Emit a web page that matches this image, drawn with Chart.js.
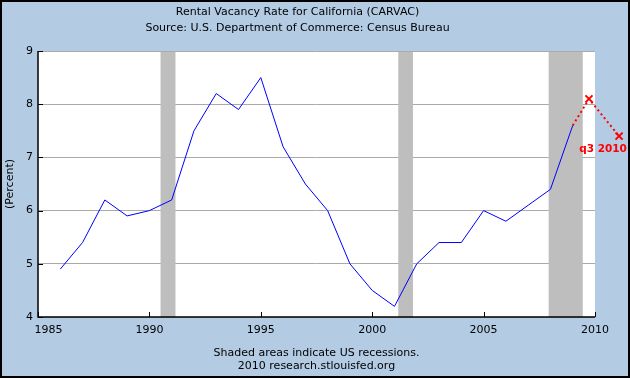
<!DOCTYPE html>
<html>
<head>
<meta charset="utf-8">
<script src="https://cdn.jsdelivr.net/npm/chart.js@4.4.0/dist/chart.umd.min.js"></script>
<style>
  html, body { margin: 0; padding: 0; background: #B3CCE4; }
  #wrap { width: 630px; height: 378px; }
</style>
</head>
<body>
<div id="wrap"><canvas id="myChart" width="630" height="378"></canvas></div>
<script>
// Årsdata, läst ur bilden
const years = [1986, 1987, 1988, 1989, 1990, 1991, 1992, 1993, 1994, 1995, 1996, 1997,
               1998, 1999, 2000, 2001, 2002, 2003, 2004, 2005, 2006, 2007, 2008, 2009];
const vacancy = [4.9, 5.4, 6.2, 5.9, 6.0, 6.2, 7.5, 8.2, 7.9, 8.5, 7.2, 6.5,
                 6.0, 5.0, 4.5, 4.2, 5.0, 5.4, 5.4, 6.0, 5.8, 6.1, 6.4, 7.6];

// Röda prickade linjen (kvartal)
const extraX = [2009, 2009.73, 2011.08];
const extraY = [7.6, 8.1, 7.4];
const extraLabel = 'q3 2010';

// Recessioner
const recessionStart = [1990.5, 2001.17, 2007.92];
const recessionEnd = [1991.17, 2001.83, 2009.45];

const xTicks = [1985, 1990, 1995, 2000, 2005, 2010];
const yTicks = [4, 5, 6, 7, 8, 9];

const titleLines = ['Rental Vacancy Rate for California (CARVAC)',
                    'Source: U.S. Department of Commerce: Census Bureau'];
const footerLines = ['Shaded areas indicate US recessions.',
                     '2010 research.stlouisfed.org'];
const yTitle = '(Percent)';

const baseFont = { family: 'DejaVu Sans', size: 11, weight: 'normal' };
const markerStyle = { pointStyle: 'crossRot', radius: 5, borderWidth: 2 };

const fredPlugin = {
    id: 'fred',
    beforeDraw(chart) {
        const ctx = chart.ctx;
        ctx.save();
        ctx.fillStyle = '#B3CCE4';
        ctx.fillRect(0, 0, chart.width, chart.height);
        const a = chart.chartArea;
        ctx.fillStyle = '#FFFFFF';
        ctx.fillRect(a.left, a.top, a.right - a.left, a.bottom - a.top);
        ctx.restore();
    },
    beforeDatasetsDraw(chart) {
        const ctx = chart.ctx;
        const a = chart.chartArea;
        const x = chart.scales.x;
        const y = chart.scales.y;
        ctx.save();
        // skuggade recessioner
        ctx.fillStyle = '#BEBEBE';
        recessionStart.forEach((s, i) => {
            const x0 = x.getPixelForValue(s);
            const x1 = x.getPixelForValue(recessionEnd[i]);
            ctx.fillRect(x0, a.top + 1, x1 - x0, a.bottom - a.top - 1);
        });
        // axlar
        ctx.strokeStyle = '#000000';
        ctx.lineWidth = 1.5;
        ctx.beginPath();
        ctx.moveTo(a.left, a.top);
        ctx.lineTo(a.left, a.bottom);
        ctx.lineTo(a.right, a.bottom);
        ctx.stroke();
        // små tickmarkeringar innanför
        ctx.lineWidth = 1;
        ctx.beginPath();
        xTicks.forEach(v => {
            const px = Math.round(x.getPixelForValue(v)) + 0.5;
            ctx.moveTo(px, a.bottom);
            ctx.lineTo(px, a.bottom - 5);
        });
        yTicks.forEach(v => {
            const py = Math.round(y.getPixelForValue(v)) + 0.5;
            ctx.moveTo(a.left, py);
            ctx.lineTo(a.left + 5, py);
        });
        ctx.stroke();
        ctx.restore();
    },
    afterDatasetsDraw(chart) {
        const ctx = chart.ctx;
        const x = chart.scales.x;
        const y = chart.scales.y;
        const last = extraX.length - 1;
        const px = x.getPixelForValue(extraX[last]);
        const py = y.getPixelForValue(extraY[last]);
        ctx.save();
        // markören utanför plottytan ritas inte av Chart.js själv
        ctx.strokeStyle = '#FF0000';
        ctx.fillStyle = '#FF0000';
        ctx.lineWidth = markerStyle.borderWidth;
        Chart.helpers.drawPoint(ctx, markerStyle, px, py);
        ctx.font = 'bold 10.5px "DejaVu Sans"';
        ctx.textAlign = 'center';
        ctx.textBaseline = 'middle';
        ctx.fillText(extraLabel, px - 16, py + 13.5);
        // ram runt hela bilden
        ctx.strokeStyle = '#000000';
        ctx.lineWidth = 2;
        ctx.strokeRect(1, 1, chart.width - 2, chart.height - 2);
        ctx.restore();
    }
};

const ctx = document.getElementById('myChart').getContext('2d');
const chartInstance = new Chart(ctx, {
    type: 'line',
    data: {
        datasets: [{
            label: 'CARVAC',
            data: years.map((yr, i) => ({ x: yr, y: vacancy[i] })),
            borderColor: '#0000FF',
            borderWidth: 1,
            pointRadius: 0,
            tension: 0
        }, {
            label: 'q3 2010',
            data: extraX.map((v, i) => ({ x: v, y: extraY[i] })),
            borderColor: '#FF0000',
            borderWidth: 2,
            borderDash: [2, 3],
            pointStyle: 'crossRot',
            pointRadius: [0, 5, 0],
            pointBorderColor: '#FF0000',
            pointBorderWidth: 2,
            tension: 0,
            clip: false
        }]
    },
    options: {
        responsive: false,
        animation: false,
        layout: { padding: { left: 0, right: 35, top: 0, bottom: 0 } },
        plugins: {
            legend: { display: false },
            tooltip: { enabled: false },
            title: {
                display: true,
                text: titleLines,
                color: '#000000',
                font: { family: 'DejaVu Sans', size: 11, weight: 'normal', lineHeight: 16 / 11 },
                padding: { top: 4, bottom: 15 }
            }
        },
        scales: {
            x: {
                type: 'linear',
                min: 1985,
                max: 2010,
                afterBuildTicks: s => { s.ticks = xTicks.map(v => ({ value: v })); },
                afterFit: s => { s.height = 61; },
                grid: { display: false, drawTicks: false },
                border: { display: false },
                ticks: {
                    color: '#000000',
                    font: baseFont,
                    padding: 7,
                    maxRotation: 0,
                    autoSkip: false,
                    callback: v => v === 1985 ? '      1985' : String(v)
                },
                title: {
                    display: true,
                    text: footerLines,
                    color: '#000000',
                    font: { family: 'DejaVu Sans', size: 11, weight: 'normal', lineHeight: 13.5 / 11 },
                    padding: { top: 0, bottom: 5 }
                }
            },
            y: {
                min: 4,
                max: 9,
                afterBuildTicks: s => { s.ticks = yTicks.map(v => ({ value: v })); },
                afterFit: s => { s.width = 38; },
                grid: { color: '#AAAAAA', lineWidth: 1, drawTicks: false },
                border: { display: false },
                ticks: { color: '#000000', font: baseFont, padding: 5 },
                title: {
                    display: true,
                    text: yTitle,
                    color: '#000000',
                    font: { family: 'DejaVu Sans', size: 11, weight: 'normal', lineHeight: 13 / 11 },
                    padding: { top: 4, bottom: 0 }
                }
            }
        }
    },
    plugins: [fredPlugin]
});
</script>
</body>
</html>
